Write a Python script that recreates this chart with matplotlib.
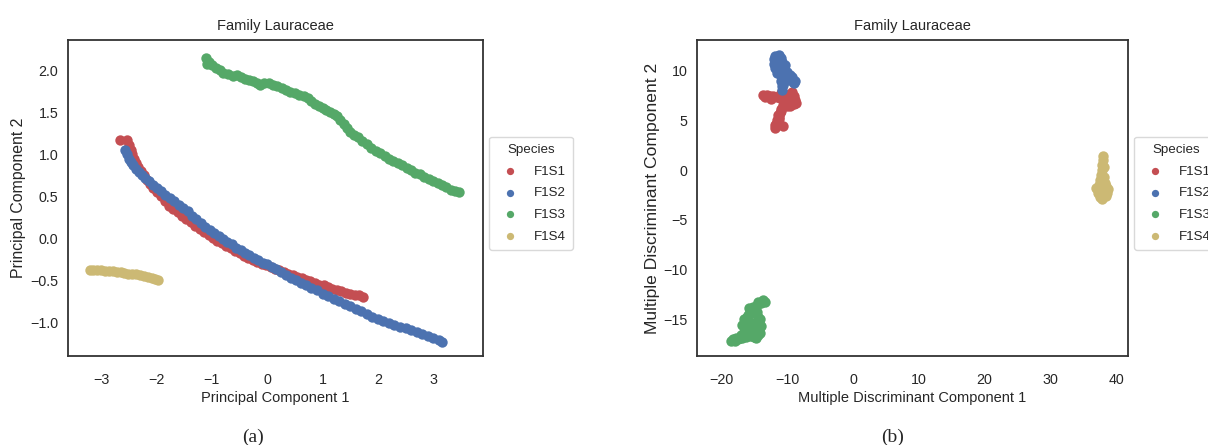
import matplotlib
matplotlib.use("Agg")
import matplotlib.pyplot as plt

# ---------------- data ----------------
species = ["F1S1", "F1S2", "F1S3", "F1S4"]
colors = ["#C44E52", "#4C72B0", "#55A868", "#CCB974"]

# (a) PCA
pca_f1s1_x = [-2.66, -2.53, -2.50, -2.47, -2.44, -2.41, -2.37, -2.33, -2.28, -2.23, -2.18, -2.12,
              -2.06, -1.99, -1.92, -1.85, -1.78, -1.70, -1.62, -1.54, -1.46, -1.38, -1.30, -1.22,
              -1.14, -1.06, -0.98, -0.90, -0.82, -0.74, -0.66, -0.58, -0.50, -0.42, -0.34, -0.26,
              -0.18, -0.10, -0.02, 0.06, 0.14, 0.22, 0.30, 0.38, 0.46, 0.54, 0.62, 0.70, 0.78,
              0.86, 0.94, 1.02, 1.10, 1.18, 1.26, 1.34, 1.42, 1.50, 1.58, 1.66, 1.73]
pca_f1s1_y = [1.17, 1.17, 1.11, 1.05, 1.00, 0.95, 0.90, 0.85, 0.80, 0.75, 0.70, 0.65,
              0.60, 0.55, 0.50, 0.45, 0.39, 0.35, 0.31, 0.27, 0.23, 0.19, 0.15, 0.11,
              0.08, 0.04, 0.01, -0.03, -0.06, -0.09, -0.12, -0.15, -0.18, -0.21, -0.23, -0.26,
              -0.28, -0.30, -0.32, -0.34, -0.36, -0.38, -0.40, -0.42, -0.44, -0.46, -0.47, -0.49, -0.51,
              -0.53, -0.55, -0.56, -0.58, -0.60, -0.62, -0.63, -0.65, -0.66, -0.67, -0.68, -0.70]

pca_f1s2_x = [-2.57, -2.54, -2.50, -2.46, -2.42, -2.37, -2.32, -2.26, -2.20, -2.14, -2.07, -2.00,
              -1.92, -1.84, -1.76, -1.68, -1.60, -1.52, -1.44, -1.36, -1.28, -1.20, -1.12, -1.04,
              -0.96, -0.88, -0.80, -0.72, -0.64, -0.56, -0.48, -0.40, -0.32, -0.24, -0.16, -0.08,
              0.00, 0.08, 0.16, 0.25, 0.34, 0.43, 0.52, 0.61, 0.70, 0.80, 0.90, 1.00, 1.10, 1.20,
              1.30, 1.40, 1.50, 1.60, 1.70, 1.80, 1.90, 2.00, 2.10, 2.20, 2.30, 2.40, 2.50, 2.60,
              2.70, 2.80, 2.90, 3.00, 3.10, 3.15]
pca_f1s2_y = [1.05, 1.00, 0.95, 0.91, 0.87, 0.83, 0.79, 0.75, 0.72, 0.68, 0.64, 0.60,
              0.56, 0.52, 0.48, 0.44, 0.40, 0.36, 0.32, 0.27, 0.23, 0.18, 0.14, 0.10,
              0.06, 0.03, -0.01, -0.04, -0.07, -0.11, -0.14, -0.17, -0.20, -0.23, -0.26, -0.29,
              -0.31, -0.34, -0.37, -0.40, -0.44, -0.47, -0.50, -0.53, -0.56, -0.59, -0.62, -0.66, -0.69, -0.72,
              -0.75, -0.78, -0.81, -0.84, -0.87, -0.90, -0.93, -0.96, -0.98, -1.01, -1.03, -1.05, -1.07, -1.09,
              -1.12, -1.14, -1.16, -1.18, -1.21, -1.23]

pca_f1s3_x = [-1.10, -1.06, -1.08, -1.00, -0.93, -0.86, -0.79, -0.70, -0.62, -0.55, -0.47, -0.40,
              -0.32, -0.25, -0.18, -0.13, -0.05, 0.03, 0.10, 0.18, 0.26, 0.34, 0.42, 0.50, 0.58,
              0.66, 0.74, 0.80, 0.86, 0.93, 1.00, 1.07, 1.14, 1.21, 1.26, 1.32, 1.38, 1.44, 1.50,
              1.57, 1.64, 1.72, 1.80, 1.88, 1.96, 2.04, 2.12, 2.20, 2.28, 2.36, 2.44, 2.52, 2.60,
              2.68, 2.76, 2.84, 2.92, 3.00, 3.08, 3.16, 3.24, 3.32, 3.40, 3.46]
pca_f1s3_y = [2.14, 2.10, 2.07, 2.06, 2.03, 2.00, 1.97, 1.95, 1.93, 1.94, 1.92, 1.90,
              1.89, 1.87, 1.85, 1.82, 1.85, 1.85, 1.83, 1.81, 1.79, 1.77, 1.74, 1.73, 1.71,
              1.69, 1.67, 1.64, 1.60, 1.58, 1.55, 1.53, 1.50, 1.48, 1.46, 1.41, 1.36, 1.31, 1.27,
              1.23, 1.20, 1.16, 1.12, 1.08, 1.04, 1.01, 0.98, 0.95, 0.92, 0.90, 0.87, 0.84, 0.81,
              0.78, 0.76, 0.73, 0.71, 0.68, 0.66, 0.63, 0.61, 0.58, 0.56, 0.55]

pca_f1s4_x = [-3.21, -3.14, -3.07, -3.00, -2.93, -2.86, -2.79, -2.72, -2.65, -2.58, -2.51, -2.44,
              -2.37, -2.30, -2.23, -2.16, -2.09, -2.02, -1.98]
pca_f1s4_y = [-0.38, -0.38, -0.38, -0.38, -0.39, -0.39, -0.39, -0.40, -0.40, -0.41, -0.42, -0.42,
              -0.43, -0.44, -0.45, -0.46, -0.47, -0.48, -0.49]

# (b) MDA
mda_f1s1_x = [-13.6, -13.1, -12.6, -12.1, -11.6, -11.1, -10.6, -10.2, -9.8, -9.4, -9.0, -9.2,
              -9.7, -10.2, -10.6, -10.9, -11.1, -11.3, -11.5, -11.7, -11.8, -10.6, -10.9, -9.6,
              -9.3, -10.4, -11.0, -11.2, -9.0, -8.8, -9.0, -9.5, -10.0, -9.6, -10.1, -8.7,
              -9.3, -13.3, -12.4, -11.4, -11.4, -11.9]
mda_f1s1_y = [7.6, 7.6, 7.5, 7.5, 7.4, 7.3, 7.2, 7.4, 7.6, 7.4, 7.0, 6.7,
              6.6, 6.8, 6.6, 6.2, 5.8, 5.4, 5.0, 4.6, 4.2, 4.4, 7.8, 7.0,
              7.2, 7.6, 6.0, 5.2, 7.5, 7.1, 6.7, 6.5, 6.5, 7.7, 7.1, 6.8,
              7.9, 7.4, 7.2, 4.8, 5.6, 4.5]

mda_f1s2_x = [-11.8, -11.6, -11.4, -11.2, -11.0, -10.8, -10.6, -10.3, -10.0, -9.7, -9.4, -9.1,
              -8.9, -11.5, -11.3, -11.1, -10.9, -10.9, -10.8, -10.8, -11.0, -10.5, -10.2, -11.7,
              -11.2, -10.4, -12.0, -12.0, -11.0, -11.2, -11.6, -10.8, -10.4, -10.0, -9.6, -9.3,
              -9.0, -8.8, -10.1, -10.3, -11.9, -11.5, -10.6, -10.6]
mda_f1s2_y = [11.5, 11.3, 11.1, 10.9, 10.7, 10.4, 10.2, 9.9, 9.6, 9.3, 9.1, 8.9,
              8.8, 10.8, 10.3, 9.9, 9.5, 9.0, 8.5, 8.1, 10.4, 9.8, 9.4, 11.0,
              11.6, 10.6, 11.2, 10.7, 11.3, 10.0, 10.2, 10.9, 10.0, 9.9, 9.6, 9.4,
              9.0, 9.0, 9.3, 9.0, 10.3, 9.8, 9.2, 8.6]

mda_f1s3_x = [-18.6, -18.0, -17.4, -16.8, -16.2, -15.6, -15.0, -14.5, -14.3, -14.3, -14.4, -14.6,
              -15.0, -16.6, -16.4, -16.2, -15.9, -15.6, -15.2, -14.6, -13.9, -13.3, -15.4, -15.1,
              -17.1, -16.0, -18.3, -17.7, -17.0, -16.5, -15.4, -14.8, -14.1, -14.0, -14.2, -15.3,
              -16.8, -16.6, -15.8, -13.6, -14.4, -16.1, -15.6]
mda_f1s3_y = [-17.2, -17.2, -17.0, -16.9, -16.8, -16.7, -16.8, -16.6, -16.0, -15.4, -14.8, -14.3,
              -14.0, -16.3, -15.7, -15.1, -14.6, -14.1, -13.8, -13.6, -13.4, -13.3, -15.4, -15.9,
              -16.9, -16.4, -17.0, -16.9, -16.6, -16.6, -16.4, -16.9, -16.4, -15.7, -15.0, -14.4,
              -15.6, -15.0, -13.9, -13.1, -13.3, -14.8, -16.2]

mda_f1s4_x = [38.0, 38.0, 37.9, 37.8, 37.7, 37.6, 37.4, 37.0, 37.2, 37.6, 38.1, 38.6,
              38.8, 38.2, 38.2, 37.9, 37.5, 37.3, 38.5, 37.9, 38.4, 38.1, 37.7, 38.3]
mda_f1s4_y = [1.4, 1.0, 0.5, 0.0, -0.5, -1.0, -1.5, -1.8, -2.3, -2.7, -2.6, -2.3,
              -1.9, -1.8, -0.7, -2.2, -2.0, -2.0, -2.6, -2.9, -1.6, 0.3, -1.2, -1.3]

pca_data = [(pca_f1s1_x, pca_f1s1_y), (pca_f1s2_x, pca_f1s2_y),
            (pca_f1s3_x, pca_f1s3_y), (pca_f1s4_x, pca_f1s4_y)]
mda_data = [(mda_f1s1_x, mda_f1s1_y), (mda_f1s2_x, mda_f1s2_y),
            (mda_f1s3_x, mda_f1s3_y), (mda_f1s4_x, mda_f1s4_y)]

pca_xticks = [-3, -2, -1, 0, 1, 2, 3]
pca_yticks = [-1.0, -0.5, 0.0, 0.5, 1.0, 1.5, 2.0]
mda_xticks = [-20, -10, 0, 10, 20, 30, 40]
mda_yticks = [-15, -10, -5, 0, 5, 10]

# ---------------- style ----------------
plt.rcParams.update({
    "font.family": ["Liberation Sans", "DejaVu Sans"],
    "axes.edgecolor": "#333333",
    "axes.linewidth": 1.3,
    "text.color": "#262626",
    "axes.labelcolor": "#262626",
    "xtick.color": "#262626",
    "ytick.color": "#262626",
    "xtick.major.size": 0,
    "ytick.major.size": 0,
    "xtick.major.pad": 12,
    "ytick.major.pad": 7,
})

fig = plt.figure(figsize=(12.08, 4.45), dpi=100)
ax1 = fig.add_axes([68 / 1208, 89 / 445, 415 / 1208, 316 / 445])
ax2 = fig.add_axes([697 / 1208, 89 / 445, 431 / 1208, 316 / 445])


def draw(ax, data, xlabel, ylabel, xticks, yticks, xlim, ylim, yfmt, ylabel_size, ylabel_x):
    for (xs, ys), lab, c in zip(data, species, colors):
        ax.scatter(xs, ys, s=56, color=c, linewidths=0, label=lab)
    ax.set_xlim(*xlim)
    ax.set_ylim(*ylim)
    ax.set_xticks(xticks)
    ax.set_yticks(yticks)
    ax.set_yticklabels([yfmt.format(v).replace("-", "\u2212") for v in yticks])
    ax.set_xticklabels([str(v).replace("-", "\u2212") for v in xticks])
    ax.tick_params(labelsize=10.3)
    ax.set_xlabel(xlabel, fontsize=10.5, labelpad=3)
    ax.set_ylabel(ylabel, fontsize=ylabel_size)
    ax.yaxis.set_label_coords(ylabel_x, 0.5)
    ax.set_title("Family Lauraceae", fontsize=10.5, pad=7)
    leg = ax.legend(title="Species", loc="center left", bbox_to_anchor=(1.0, 0.515),
                    fontsize=9.6, title_fontsize=9.6, frameon=True, markerscale=0.7,
                    borderpad=0.55, labelspacing=0.7, borderaxespad=0.45)
    leg.get_frame().set_edgecolor("#d0d0d0")
    leg.get_frame().set_linewidth(1.0)


draw(ax1, pca_data, "Principal Component 1", "Principal Component 2",
     pca_xticks, pca_yticks, (-3.6, 3.9), (-1.40, 2.36), "{:.1f}", 11.4, -0.102)
draw(ax2, mda_data, "Multiple Discriminant Component 1", "Multiple Discriminant Component 2",
     mda_xticks, mda_yticks, (-23.7, 41.8), (-18.7, 13.1), "{:d}", 12.6, -0.086)

fig.text(253 / 1208, 0.018, "(a)", fontsize=14, family="Liberation Serif", ha="center", va="center")
fig.text(893 / 1208, 0.018, "(b)", fontsize=14, family="Liberation Serif", ha="center", va="center")

fig.savefig("out.png", dpi=100)
